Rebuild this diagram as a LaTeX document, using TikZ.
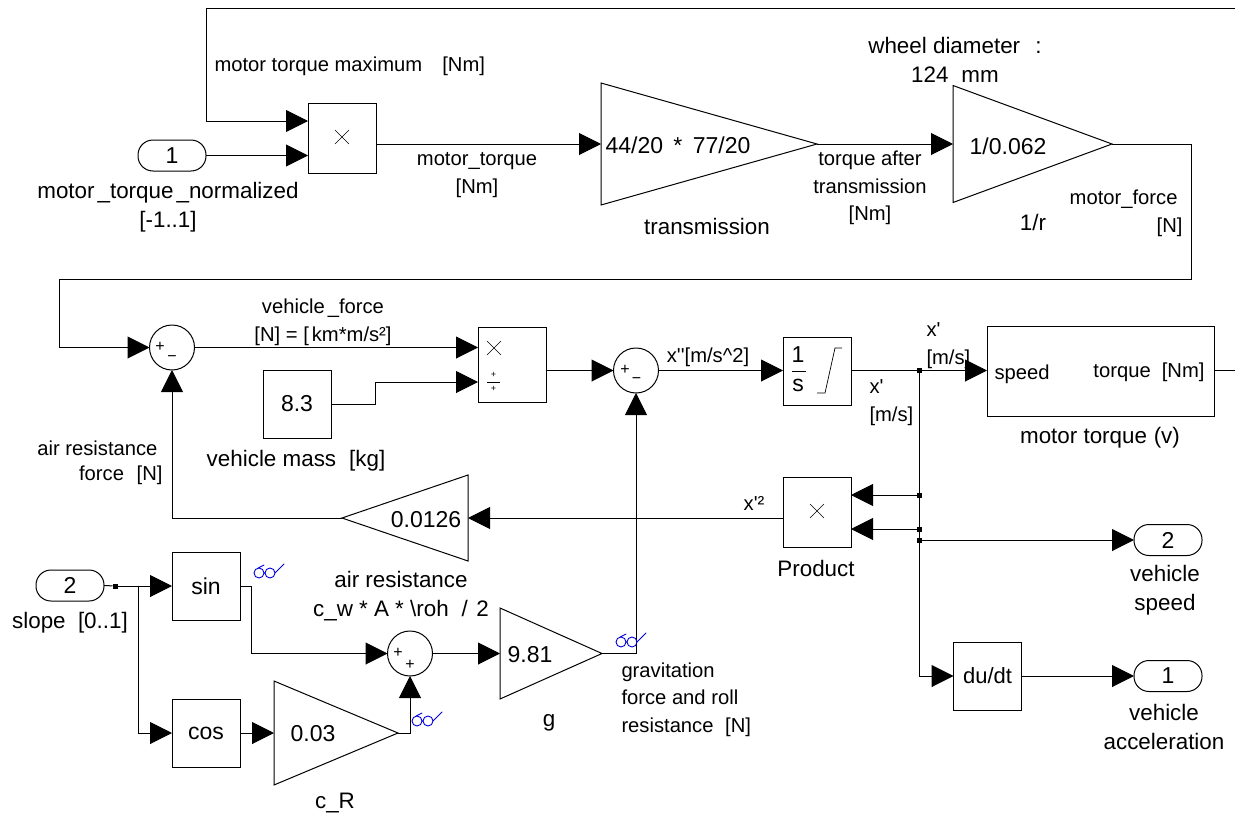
\documentclass[tikz,border=0pt]{standalone}
\usepackage{fontspec}
\setmainfont[Ligatures=TeXOff]{Liberation Sans}
\usetikzlibrary{arrows.meta,shapes.geometric,shapes.misc}
\newcommand{\dn}[2]{\raisebox{-#1pt}{#2}}
\tikzset{
  blk/.style={draw,rectangle,inner sep=0,outer sep=0,minimum width=#1,font=\fontsize{23}{27}\selectfont},
  blk/.default=68pt,
  port/.style={draw,rectangle,rounded corners=15pt,inner sep=0,outer sep=0,minimum width=68pt,minimum height=31pt,font=\fontsize{23}{27}\selectfont},
  gain/.style={draw,isosceles triangle,isosceles triangle stretches,inner sep=0,outer sep=0,anchor=apex},
  sumb/.style={draw,circle,inner sep=0,outer sep=0,minimum size=45pt},
  jdot/.style={fill,rectangle,inner sep=0,outer sep=0,minimum size=5pt},
  xmark/.style={cross out,draw,line width=.6pt,inner sep=0,outer sep=0,minimum size=14pt},
  big/.style={inner sep=0,align=center,font=\fontsize{22.4}{29}\selectfont},
  num/.style={inner sep=0,align=center,font=\fontsize{23}{27}\selectfont},
  mid/.style={inner sep=0,align=center,font=\fontsize{20.2}{27.5}\selectfont},
  sml/.style={inner sep=0,align=center,font=\fontsize{20.2}{27.5}\selectfont},
  sign/.style={inner sep=0,font=\fontsize{16}{16}\selectfont},
  wire/.style={line width=1pt},
  arr/.style={line width=1pt,-{Triangle[length=22pt,width=22pt,sep=0pt]}},
  glasses/.pic={
    \draw[blue!85!black,line width=.9pt,line cap=round]
      (0,0) circle[radius=5pt] (11,0) circle[radius=5pt]
      (5,0) -- (6,0) (16,0) -- (25,-9) (-1,-5) -- (5,-8);
  }
}
\begin{document}
\begin{tikzpicture}[x=1pt,y=-1pt,line width=1pt]
\useasboundingbox (0,0) rectangle (1235,814);
% ---- row 1
\node[port] (in1) at (172,155.5) {\dn{1.5}{1}};
\node[blk,minimum height=70pt] (p1) at (342,138) {};
\node[xmark] (p1x) at (342,137) {};
\node[gain,minimum width=122pt,minimum height=216pt] (t1) at (817,144) {};
\node[gain,minimum width=117pt,minimum height=159pt] (t2) at (1112,144) {};
\node[num] (t1v) at (678,145) {44/20\hspace{.45em}*\hspace{.45em}77/20};
\node[num] (t2v) at (1008,146) {1/0.062};
\coordinate (topR) at (1235,8);
\coordinate (topL) at (206,8);
\coordinate (r1) at (1191,144);
\coordinate (r2) at (1191,279.5);
\coordinate (r3) at (59,279.5);
\coordinate (r4) at (59,347.5);
\draw[arr] (topR) -- (topL) -- (206,121) -- (p1.west |- 0,121);
\draw[arr] (in1.east) -- (p1.west |- in1.east);
\draw[arr] (p1.east |- t1.apex) -- (t1.lower side);
\draw[arr] (t1.apex) -- (t2.lower side);
% ---- row 2
\node[sumb] (s1) at (172,347.5) {};
\node[blk,minimum height=75pt] (p2) at (512,364.5) {};
\node[blk,minimum height=68pt] (k) at (297,404) {\dn{2}{8.3}};
\node[sumb] (s2) at (636,370.5) {};
\node[blk,minimum height=68pt] (int) at (817,371) {};
\node[blk=227pt,minimum height=90pt] (mt) at (1100.5,371) {};
\node[jdot] (j0) at (919,370.5) {};
\draw[wire] (t2.apex) -- (r1) -- (r2) -- (r3) -- (r4);
\draw[arr] (r4) -- (s1.west);
\draw[arr] (s1.east) -- (p2.west |- s1.east);
\draw[arr] (k.east) -- (375,404) -- (375,382) -- (p2.west |- 0,382);
\draw[arr] (p2.east |- s2.west) -- (s2.west);
\draw[arr] (s2.east) -- (int.west |- s2.east);
\draw[wire] (int.east |- j0) -- (j0);
\draw[arr] (j0) -- (mt.west |- j0);
\coordinate (mtout) at (1235,370.5);
\draw[wire] (mt.east |- mtout) -- (mtout);
\node[sign] (s1p) at (160,347) {+};
\node[sign] (s1m) at (172,358.5) {−};
\node[sign] (s2p) at (625,370) {+};
\node[sign] (s2m) at (636.5,381) {−};
\node[xmark] (p2x) at (494,348) {};
\node[sign,font=\fontsize{9}{9}\selectfont] (p2a) at (493.5,375) {+};
\node[sign,font=\fontsize{9}{9}\selectfont] (p2b) at (493.5,389) {+};
\draw[line width=.6pt] (487,382) -- (500,382);
\node[num] (int1) at (798,355) {1};
\node[num] (ints) at (798,385) {s};
\draw[line width=.7pt] (792,371) -- (806,371);
\draw[line width=.7pt] (817,393) -- (825,393) -- (835,348) -- (842,348);
% ---- row 3
\node[blk,minimum height=70pt] (p3) at (817,512) {};
\node[xmark] (p3x) at (817,511) {};
\node[gain,minimum width=86pt,minimum height=126pt,shape border rotate=180] (t3) at (342,518) {};
\node[num] (t3v) at (426,520) {0.0126};
\node[jdot] (j1) at (919,495) {};
\node[jdot] (j2) at (919,529) {};
\node[jdot] (j3) at (919,540) {};
\coordinate (jb) at (919,676);
\coordinate (c1) at (172,518);
\draw[wire] (j0) -- (jb);
\draw[arr] (j1) -- (p3.east |- j1);
\draw[arr] (j2) -- (p3.east |- j2);
\draw[arr] (p3.west |- t3.lower side) -- (t3.lower side);
\draw[arr] (t3.apex) -- (c1) -- (s1.south);
% ---- outputs
\node[port] (o2) at (1168,540) {\dn{1.5}{2}};
\node[blk,minimum height=68pt] (du) at (987.5,676) {\dn{3}{\fontsize{22}{26}\selectfont du/dt}};
\node[port] (o1) at (1168,676) {\dn{1.5}{1}};
\draw[arr] (j3) -- (o2.west);
\draw[arr] (jb) -- (du.west);
\draw[arr] (du.east) -- (o1.west);
% ---- lower left
\node[port] (in2) at (70,585.5) {\dn{1.5}{2}};
\node[jdot] (j4) at (115,586) {};
\node[blk,minimum height=68pt] (sin) at (206,586) {\dn{2}{sin}};
\node[blk,minimum height=68pt] (cos) at (206,733) {\dn{3}{cos}};
\node[sumb] (s3) at (410,653.5) {};
\node[gain,minimum width=104pt,minimum height=124pt] (t4) at (398,733) {};
\node[gain,minimum width=91pt,minimum height=102pt] (t5) at (602,653.5) {};
\node[num] (t4v) at (313,734) {0.03};
\node[num] (t5v) at (530,655) {9.81};
\coordinate (b1) at (138,586);
\coordinate (b2) at (138,733);
\coordinate (e1) at (251,586);
\coordinate (e2) at (251,653.5);
\coordinate (e3) at (410,733);
\coordinate (e4) at (636,653.5);
\draw[wire] (in2.east) -- (j4);
\draw[arr] (j4) -- (sin.west);
\draw[arr] (b1) -- (b2) -- (cos.west);
\draw[arr] (cos.east) -- (t4.lower side);
\draw[arr] (sin.east) -- (e1) -- (e2) -- (s3.west);
\draw[arr] (t4.apex) -- (e3) -- (s3.south);
\draw[arr] (s3.east) -- (t5.lower side);
\draw[arr] (t5.apex) -- (e4) -- (s2.south);
\node[sign] (s3p) at (398,653) {+};
\node[sign] (s3q) at (410,665) {+};
\pic at (259,573) {glasses};
\pic at (417,721) {glasses};
\pic at (621,642) {glasses};
% ---- labels
\node[mid,anchor=west] (l1) at (214,66) {motor torque maximum\hspace{1em}[Nm]};
\node[big] (l2) at (168,207) {motor\hspace{3pt}\_torque\hspace{3pt}\_normalized\\{}[-1..1]};
\node[sml] (l3) at (477,175) {motor\_torque\\{}[Nm]};
\node[big] (l4) at (707,226) {transmission};
\node[big] (l5) at (955,60) {wheel diameter\hspace{.4em} :\\124\hspace{.3em} mm};
\node[sml] (l6) at (870,188) {torque after\\transmission\\{}[Nm]};
\node[big] (l7) at (1033,222) {1/r};
\node[sml,anchor=east] (l8) at (1178,199) {motor\_force};
\node[sml,anchor=east] (l9) at (1183,227) {[N]};
\node[sml] (l10) at (323,322.5) {vehicle\hspace{3pt}\_force\\{}[N] = [\hspace{3pt}km*m/s²]};
\node[big] (l11) at (296,461) {vehicle mass\hspace{.3em} [kg]};
\node[sml,anchor=east] (l12) at (158,448.5) {air resistance};
\node[sml,anchor=east] (l13) at (163,475.5) {force\hspace{.35em} [N]};
\node[mid] (l14) at (708,357) {x''[m/s\textasciicircum 2]};
\node[mid,align=left,anchor=west] (l15) at (926,345.5) {x'\\{}[m/s]};
\node[mid,align=left,anchor=west] (l16) at (869,402.5) {x'\\{}[m/s]};
\node[mid,anchor=west] (l17) at (994,374) {speed};
\node[mid,anchor=east] (l18) at (1205,372) {torque\hspace{.55em}[Nm]};
\node[big] (l19) at (1100,437.5) {motor torque\hspace{.3em}(v)};
\node[mid] (l20) at (754,503) {x'²};
\node[big] (l21) at (816,568) {Product};
\node[big] (l22) at (1165,590) {vehicle\\speed};
\node[big] (l23) at (1164,727) {vehicle\\acceleration};
\node[big] (l24) at (70,623) {slope\hspace{.55em}[0..1]};
\node[big] (l25) at (401,596) {air resistance\\c\_w * A * \textbackslash roh\hspace{.3em} /\hspace{.1em} 2};
\node[big] (l26) at (335,803) {c\_R};
\node[big] (l27) at (549,723) {g};
\node[sml,align=left,anchor=west] (l28) at (621,699.5) {gravitation\\force and roll\\resistance\hspace{.3em} [N]};
\end{tikzpicture}
\end{document}
